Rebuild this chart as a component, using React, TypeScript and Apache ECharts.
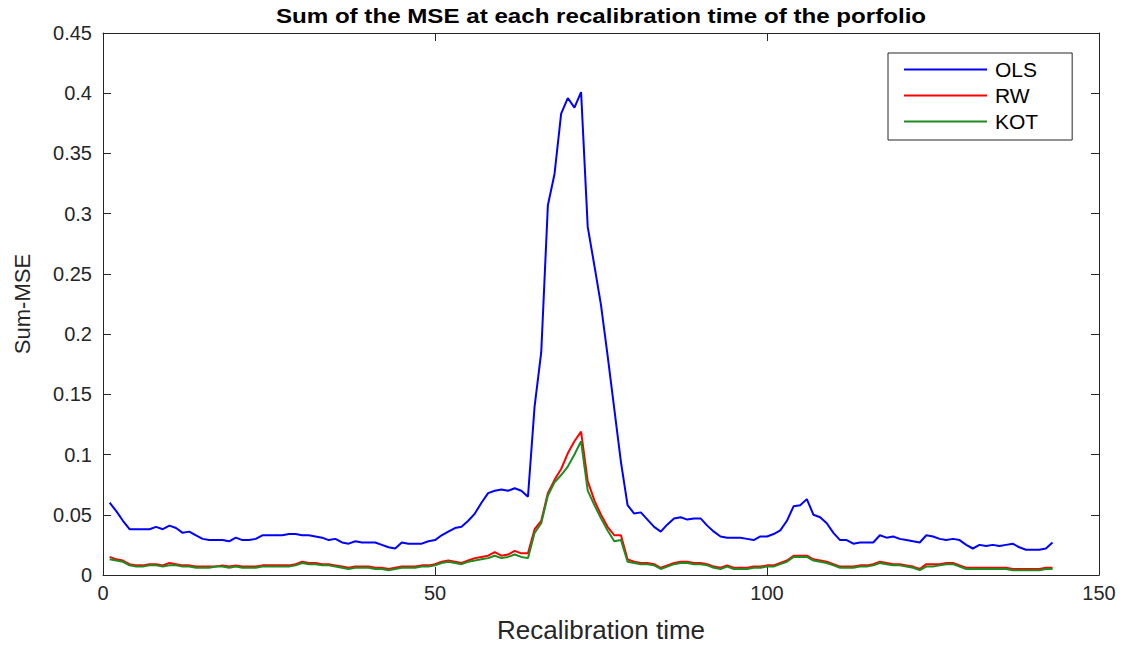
import React, { useEffect, useRef } from "react";
import * as echarts from "echarts";

const titleText = "Sum of the MSE at each recalibration time of the porfolio";
const seriesNames = ["OLS", "RW", "KOT"];
const xTicks = [0, 50, 100, 150];
const yTicks = [0, 0.05, 0.1, 0.15, 0.2, 0.25, 0.3, 0.35, 0.4, 0.45];

const olsValues = [
  0.060, 0.053, 0.045, 0.038, 0.038, 0.038, 0.038, 0.040, 0.038, 0.041,
  0.039, 0.035, 0.036, 0.033, 0.030, 0.029, 0.029, 0.029, 0.028, 0.031,
  0.029, 0.029, 0.030, 0.033, 0.033, 0.033, 0.033, 0.034, 0.034, 0.033,
  0.033, 0.032, 0.031, 0.029, 0.030, 0.027, 0.026, 0.028, 0.027, 0.027,
  0.027, 0.025, 0.023, 0.022, 0.027, 0.026, 0.026, 0.026, 0.028, 0.029,
  0.033, 0.036, 0.039, 0.040, 0.045, 0.051, 0.060, 0.068, 0.070, 0.071,
  0.070, 0.072, 0.070, 0.065, 0.140, 0.185, 0.307, 0.333, 0.383, 0.396,
  0.388, 0.401, 0.289, 0.257, 0.224, 0.182, 0.138, 0.094, 0.058, 0.051,
  0.052, 0.046, 0.040, 0.036, 0.042, 0.047, 0.048, 0.046, 0.047, 0.047,
  0.041, 0.036, 0.032, 0.031, 0.031, 0.031, 0.030, 0.029, 0.032, 0.032,
  0.034, 0.037, 0.045, 0.057, 0.058, 0.063, 0.050, 0.048, 0.043, 0.035,
  0.029, 0.029, 0.026, 0.027, 0.027, 0.027, 0.033, 0.031, 0.032, 0.030,
  0.029, 0.028, 0.027, 0.033, 0.032, 0.030, 0.029, 0.030, 0.029, 0.025,
  0.022, 0.025, 0.024, 0.025, 0.024, 0.025, 0.026, 0.023, 0.021, 0.021,
  0.021, 0.022, 0.027,
];

const rwValues = [
  0.015, 0.013, 0.012, 0.009, 0.008, 0.008, 0.009, 0.009, 0.008, 0.010,
  0.009, 0.008, 0.008, 0.007, 0.007, 0.007, 0.007, 0.008, 0.007, 0.008,
  0.007, 0.007, 0.007, 0.008, 0.008, 0.008, 0.008, 0.008, 0.009, 0.011,
  0.010, 0.010, 0.009, 0.009, 0.008, 0.007, 0.006, 0.007, 0.007, 0.007,
  0.006, 0.006, 0.005, 0.006, 0.007, 0.007, 0.007, 0.008, 0.008, 0.009,
  0.011, 0.012, 0.011, 0.010, 0.012, 0.014, 0.015, 0.016, 0.019, 0.016,
  0.017, 0.020, 0.018, 0.018, 0.038, 0.045, 0.068, 0.079, 0.088, 0.101,
  0.111, 0.119, 0.078, 0.062, 0.050, 0.040, 0.033, 0.033, 0.013, 0.011,
  0.010, 0.010, 0.009, 0.006, 0.008, 0.010, 0.011, 0.011, 0.010, 0.010,
  0.009, 0.007, 0.006, 0.008, 0.006, 0.006, 0.006, 0.007, 0.007, 0.008,
  0.008, 0.010, 0.012, 0.016, 0.016, 0.016, 0.013, 0.012, 0.011, 0.009,
  0.007, 0.007, 0.007, 0.008, 0.008, 0.009, 0.011, 0.010, 0.009, 0.009,
  0.008, 0.007, 0.005, 0.009, 0.009, 0.009, 0.010, 0.010, 0.008, 0.006,
  0.006, 0.006, 0.006, 0.006, 0.006, 0.006, 0.005, 0.005, 0.005, 0.005,
  0.005, 0.006, 0.006,
];

const kotValues = [
  0.013, 0.012, 0.011, 0.008, 0.007, 0.007, 0.008, 0.008, 0.007, 0.008,
  0.008, 0.007, 0.007, 0.006, 0.006, 0.006, 0.007, 0.007, 0.006, 0.007,
  0.006, 0.006, 0.006, 0.007, 0.007, 0.007, 0.007, 0.007, 0.008, 0.010,
  0.009, 0.009, 0.008, 0.008, 0.007, 0.006, 0.005, 0.006, 0.006, 0.006,
  0.005, 0.005, 0.004, 0.005, 0.006, 0.006, 0.006, 0.007, 0.007, 0.008,
  0.010, 0.011, 0.010, 0.009, 0.011, 0.012, 0.013, 0.014, 0.016, 0.014,
  0.015, 0.017, 0.015, 0.014, 0.035, 0.043, 0.066, 0.077, 0.083, 0.090,
  0.100, 0.111, 0.070, 0.058, 0.047, 0.037, 0.028, 0.029, 0.011, 0.010,
  0.009, 0.009, 0.008, 0.005, 0.007, 0.009, 0.010, 0.010, 0.009, 0.009,
  0.008, 0.006, 0.005, 0.007, 0.005, 0.005, 0.005, 0.006, 0.006, 0.007,
  0.007, 0.009, 0.011, 0.015, 0.015, 0.015, 0.012, 0.011, 0.010, 0.008,
  0.006, 0.006, 0.006, 0.007, 0.007, 0.008, 0.010, 0.009, 0.008, 0.008,
  0.007, 0.006, 0.004, 0.007, 0.007, 0.008, 0.009, 0.009, 0.007, 0.005,
  0.005, 0.005, 0.005, 0.005, 0.005, 0.005, 0.004, 0.004, 0.004, 0.004,
  0.004, 0.005, 0.005,
];

const colors = ["#0000ff", "#ff0000", "#1e8c1e"];
const FONT = "'Liberation Sans', Arial, Helvetica, sans-serif";
const AXIS_COLOR = "#262626";

const toPairs = (vals: number[]) => vals.map((v, i) => [i + 1, v]);

export default function App() {
  const ref = useRef<HTMLDivElement>(null);

  useEffect(() => {
    if (!ref.current) return;
    const chart = echarts.init(ref.current, null, { renderer: "svg" });
    const axisCommon = {
      axisLine: { show: true, onZero: false, lineStyle: { color: AXIS_COLOR, width: 1 } },
      axisTick: { show: true, inside: true, length: 8, lineStyle: { color: AXIS_COLOR } },
      splitLine: { show: false },
    };
    const allSeries = [olsValues, rwValues, kotValues];
    chart.setOption({
      animation: false,
      backgroundColor: "#ffffff",
      textStyle: { fontFamily: FONT },
      graphic: [
        {
          type: "text",
          x: 601,
          y: 6,
          scaleX: 1.15,
          style: {
            text: titleText,
            font: `bold 21px ${FONT}`,
            fill: "#000000",
            textAlign: "center",
            textVerticalAlign: "top",
          },
        },
      ],
      legend: {
        left: 888,
        top: 53,
        orient: "vertical",
        data: seriesNames.map((n) => ({ name: n, icon: "rect" })),
        itemWidth: 83,
        itemHeight: 2,
        itemGap: 5,
        padding: [6, 34, 8, 16],
        borderColor: AXIS_COLOR,
        borderWidth: 1,
        backgroundColor: "#ffffff",
        textStyle: {
          fontFamily: FONT,
          fontSize: 21,
          color: "#000000",
          lineHeight: 20,
          padding: [0, 0, 0, 3],
        },
      },
      grid: { left: 103, right: 25, top: 33, bottom: 71, containLabel: false },
      xAxis: [
        {
          type: "value",
          min: xTicks[0],
          max: xTicks[xTicks.length - 1],
          interval: 50,
          position: "bottom",
          name: "Recalibration time",
          nameLocation: "middle",
          nameGap: 42,
          nameTextStyle: { fontFamily: FONT, fontSize: 26, color: "#262626" },
          axisLabel: { fontFamily: FONT, fontSize: 20, color: "#262626", margin: 8 },
          ...axisCommon,
        },
        {
          type: "value",
          min: xTicks[0],
          max: xTicks[xTicks.length - 1],
          interval: 50,
          position: "top",
          axisLabel: { show: false },
          ...axisCommon,
        },
      ],
      yAxis: [
        {
          type: "value",
          min: yTicks[0],
          max: yTicks[yTicks.length - 1],
          interval: 0.05,
          position: "left",
          name: "Sum-MSE",
          nameLocation: "middle",
          nameGap: 70,
          nameTextStyle: { fontFamily: FONT, fontSize: 22, color: "#262626" },
          axisLabel: { fontFamily: FONT, fontSize: 20, color: "#262626", margin: 11 },
          ...axisCommon,
        },
        {
          type: "value",
          min: yTicks[0],
          max: yTicks[yTicks.length - 1],
          interval: 0.05,
          position: "right",
          axisLabel: { show: false },
          ...axisCommon,
        },
      ],
      series: seriesNames.map((name, i) => ({
        name,
        type: "line",
        xAxisIndex: 0,
        yAxisIndex: 0,
        data: toPairs(allSeries[i]),
        showSymbol: false,
        symbol: "none",
        lineStyle: { color: colors[i], width: 2 },
        itemStyle: { color: colors[i] },
        z: 2 + i,
      })),
    });
    return () => chart.dispose();
  }, []);

  return (
    <div
      ref={ref}
      style={{ position: "fixed", left: 0, top: 0, width: 1124, height: 648, background: "#fff" }}
    />
  );
}
